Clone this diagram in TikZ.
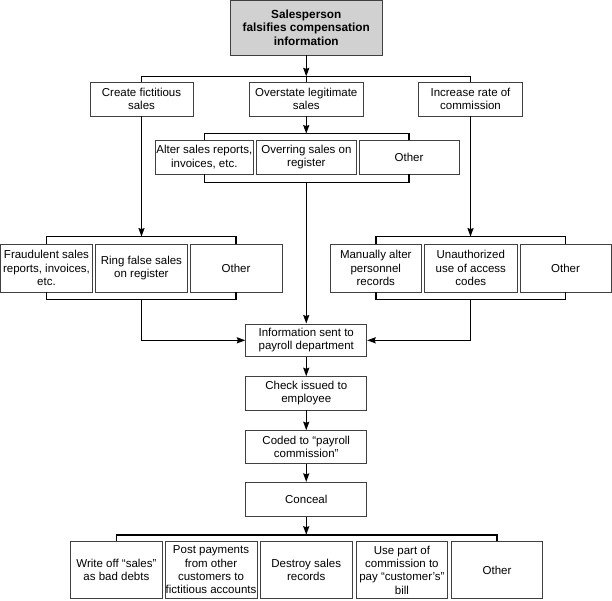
\documentclass[tikz,border=0pt]{standalone}
\usepackage{fontspec}
\setmainfont{Liberation Sans}
\usetikzlibrary{arrows.meta,calc}
\begin{document}
\begin{tikzpicture}[x=1pt,y=-1pt,
  box/.style={draw=black!75, line width=0.8pt, fill=white, align=center, inner sep=0pt,
    font=\fontsize{11.5}{13.3}\selectfont},
  topbox/.style={box, fill=black!18, font=\bfseries\fontsize{11.8}{13.3}\selectfont},
  conn/.style={draw=black, line width=1.5pt},
  arr/.style={conn, -{Stealth[length=8.5pt,width=6pt,inset=1pt]}},
]
\useasboundingbox (0,0) rectangle (612,600);
% top
\node[topbox, minimum width=152.5, minimum height=54.5] (top) at (306.25,27.75) {Salesperson\\falsifies compensation\\information};
% level 1
\node[box, minimum width=103, minimum height=34] (create) at (141.5,99) {Create fictitious\\sales};
\node[box, minimum width=114, minimum height=34] (overstate) at (306.25,99) {Overstate legitimate\\sales};
\node[box, minimum width=103.5, minimum height=34] (increase) at (470.5,99) {Increase rate of\\commission};
% middle group
\node[box, minimum width=98.7, minimum height=34] (alter) at (204.3,157) {Alter sales reports,\\invoices, etc.};
\node[box, minimum width=99.2, minimum height=34] (overring) at (306.4,157) {Overring sales on\\register};
\node[box, minimum width=100, minimum height=34] (otherm) at (409,157) {Other};
% left group
\node[box, minimum width=92, minimum height=48] (fraud) at (46.5,268) {Fraudulent sales\\reports, invoices,\\etc.};
\node[box, minimum width=92.7, minimum height=48] (ring) at (141.4,268) {Ring false sales\\on register};
\node[box, minimum width=91.8, minimum height=48] (otherl) at (236,268) {Other};
% right group
\node[box, minimum width=91.5, minimum height=48] (manual) at (375.8,268) {Manually alter\\personnel\\records};
\node[box, minimum width=93.6, minimum height=48] (unauth) at (470.8,268) {Unauthorized\\use of access\\codes};
\node[box, minimum width=91, minimum height=48] (otherr) at (565.5,268) {Other};
% chain
\node[box, minimum width=121, minimum height=32.7] (info) at (306.25,340.3) {Information sent to\\payroll department};
\node[box, minimum width=121, minimum height=33.3] (check) at (306.25,393.3) {Check issued to\\employee};
\node[box, minimum width=121, minimum height=32.7] (coded) at (306.25,447) {Coded to “payroll\\commission”};
\node[box, minimum width=121, minimum height=34.4] (conceal) at (306.25,499.5) {Conceal};
% bottom group
\node[box, minimum width=92, minimum height=56.3] (writeoff) at (116.4,570) {Write off “sales”\\as bad debts};
\node[box, minimum width=92, minimum height=56.3] (post) at (211,570) {Post payments\\from other\\customers to\\fictitious accounts};
\node[box, minimum width=92.5, minimum height=56.3] (destroy) at (306.2,570) {Destroy sales\\records};
\node[box, minimum width=91.7, minimum height=56.3] (usepart) at (401.9,570) {Use part of\\commission to\\pay “customer’s”\\bill};
\node[box, minimum width=91, minimum height=56.3] (otherb) at (497,570) {Other};

% coordinates
\coordinate (bar1) at ($(top.south)+(0,21)$);
\coordinate (mtop) at ($(overring.north)+(0,-6)$);
\coordinate (mbot) at ($(overring.south)+(0,8)$);
\coordinate (ltop) at ($(ring.north)+(0,-7)$);
\coordinate (lbot) at ($(ring.south)+(0,7)$);
\coordinate (rtop) at ($(unauth.north)+(0,-7)$);
\coordinate (rbot) at ($(unauth.south)+(0,7)$);
\coordinate (bar2) at ($(writeoff.north)+(0,-6.7)$);

% top connectors
\draw[arr] (top.south) -- (top.south |- bar1);
\draw[conn] (create.north) -- (create.north |- bar1) -- (increase.north |- bar1) -- (increase.north);
\draw[conn] (overstate.north |- bar1) -- (overstate.north);
% middle bracket
\draw[conn] (alter.north) -- (alter.north |- mtop) -- (otherm.north |- mtop) -- (otherm.north);
\draw[conn] (alter.south) -- (alter.south |- mbot) -- (otherm.south |- mbot) -- (otherm.south);
\draw[arr] (overstate.south) -- (overstate.south |- mtop);
\draw[arr] (info.north |- mbot) -- (info.north);
% left bracket
\draw[conn] (fraud.north) -- (fraud.north |- ltop) -- (otherl.north |- ltop) -- (otherl.north);
\draw[conn] (fraud.south) -- (fraud.south |- lbot) -- (otherl.south |- lbot) -- (otherl.south);
\draw[arr] (create.south) -- (create.south |- ltop);
\draw[arr] (create.south |- lbot) |- (info.west);
% right bracket
\draw[conn] (manual.north) -- (manual.north |- rtop) -- (otherr.north |- rtop) -- (otherr.north);
\draw[conn] (manual.south) -- (manual.south |- rbot) -- (otherr.south |- rbot) -- (otherr.south);
\draw[arr] (increase.south) -- (increase.south |- rtop);
\draw[arr] (increase.south |- rbot) |- (info.east);
% chain
\draw[arr] (info) -- (check);
\draw[arr] (check) -- (coded);
\draw[arr] (coded) -- (conceal);
\draw[arr] (conceal.south) -- (conceal.south |- bar2);
\draw[conn] (writeoff.north) -- (writeoff.north |- bar2) -- (otherb.north |- bar2) -- (otherb.north);
\end{tikzpicture}
\end{document}
